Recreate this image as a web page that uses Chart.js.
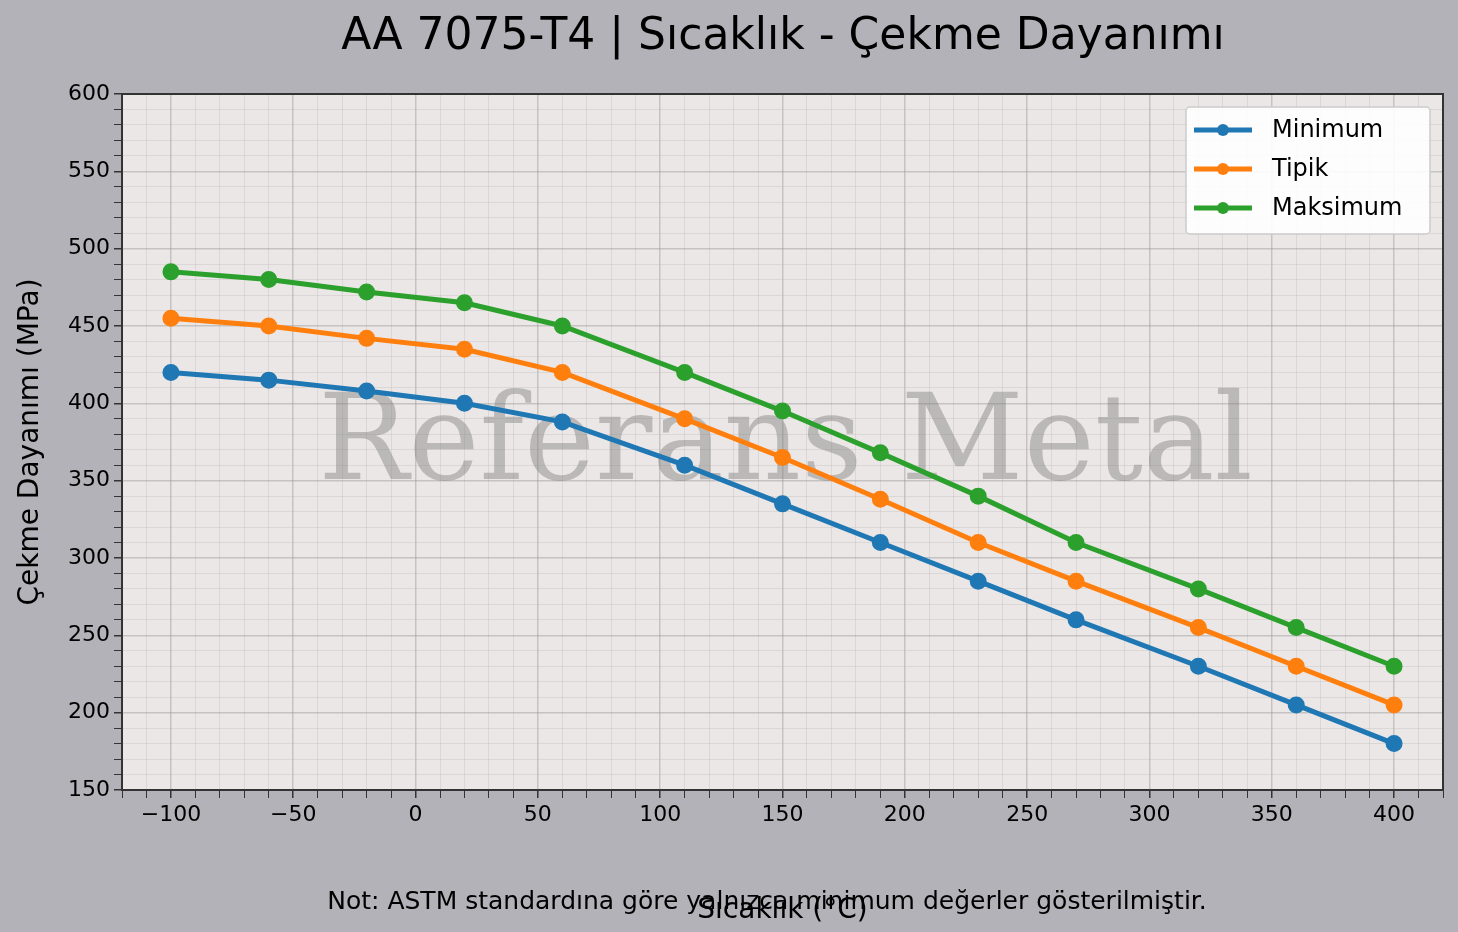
<!DOCTYPE html>
<html><head><meta charset="utf-8">
<script src="https://cdn.jsdelivr.net/npm/chart.js@4"></script>
<style>html,body{margin:0;padding:0;background:#b3b2b8;}#w{width:1458px;height:932px;}</style>
</head><body><div id="w"><canvas id="c"></canvas></div>
<script>
const temps=[-100,-60,-20,20,60,110,150,190,230,270,320,360,400];
const minimum=[420,415,408,400,388,360,335,310,285,260,230,205,180];
const tipik=[455,450,442,435,420,390,365,338,310,285,255,230,205];
const maksimum=[485,480,472,465,450,420,395,368,340,310,280,255,230];
const names=['Minimum','Tipik','Maksimum'];
const colors=['#1f77b4','#ff7f0e','#2ca02c'];
const F='"DejaVu Sans", sans-serif';
const mk=(arr,i)=>({label:names[i],data:temps.map((t,j)=>({x:t,y:arr[j]})),borderColor:colors[i],backgroundColor:colors[i],borderWidth:5,pointRadius:6,pointHoverRadius:6});
const deco={id:'deco',
beforeDraw(ch){const c=ch.ctx,a=ch.chartArea;c.save();c.fillStyle='#b3b2b8';c.fillRect(0,0,ch.width,ch.height);c.fillStyle='#ebe7e6';c.fillRect(a.left,a.top,a.right-a.left,a.bottom-a.top);c.restore();},
beforeDatasetsDraw(ch){const c=ch.ctx,a=ch.chartArea;c.save();c.fillStyle='rgba(128,128,128,0.45)';c.font='120px "DejaVu Serif", serif';c.textAlign='center';c.textBaseline='middle';c.fillText('Referans Metal',(a.left+a.right)/2+3,448);c.restore();},
afterDraw(ch){const c=ch.ctx,a=ch.chartArea;c.save();
c.strokeStyle='#333';c.lineWidth=2;c.strokeRect(a.left,a.top,a.right-a.left,a.bottom-a.top);
c.fillStyle='#000';c.textAlign='center';c.textBaseline='middle';
c.font='44px '+F;c.fillText('AA 7075-T4 | Sıcaklık - Çekme Dayanımı',783,38);
c.font='25px '+F;c.fillText('Not: ASTM standardına göre yalnızca minimum değerler gösterilmiştir.',767,902);
// legend
const lx=1186,ly=107,lw=244,lh=127;c.fillStyle='rgba(255,255,255,0.9)';c.strokeStyle='#ccc';c.lineWidth=1.5;
c.beginPath();c.roundRect(lx,ly,lw,lh,4);c.fill();c.stroke();
c.textAlign='left';c.font='24px '+F;
for(let i=0;i<3;i++){const y=130+i*39;c.strokeStyle=colors[i];c.lineWidth=5;c.beginPath();c.moveTo(1194,y);c.lineTo(1252,y);c.stroke();
c.fillStyle=colors[i];c.beginPath();c.arc(1223,y,6,0,Math.PI*2);c.fill();c.fillStyle='#000';c.fillText(names[i],1272,y+1);}
c.restore();}};
new Chart(document.getElementById('c'),{type:'line',
data:{datasets:[mk(minimum,0),mk(tipik,1),mk(maksimum,2)]},
options:{responsive:true,maintainAspectRatio:false,animation:false,
layout:{padding:{left:10,right:15,top:94,bottom:0}},
plugins:{legend:{display:false},tooltip:{enabled:false}},
scales:{
x:{type:'linear',min:-120,max:420,
ticks:{stepSize:10,autoSkip:false,font:{size:22,family:F},color:'#000',maxRotation:0,padding:4,
callback:v=>v%50===0?(v<0?'\u2212'+(-v):String(v)):''},
grid:{color:ctx=>ctx.tick&&ctx.tick.value%50===0?'rgba(150,150,150,0.45)':'rgba(180,180,180,0.3)',lineWidth:ctx=>ctx.tick&&ctx.tick.value%50===0?1.5:1,tickLength:ctx=>8,tickColor:'#333'},
border:{display:false},
title:{display:true,text:'Sıcaklık (°C)',font:{size:28,family:F},color:'#000'},
afterFit(s){s.height=142;}},
y:{min:150,max:600,
ticks:{stepSize:10,autoSkip:false,font:{size:22,family:F},color:'#000',padding:4,
callback:v=>v%50===0?String(v):''},
grid:{color:ctx=>ctx.tick&&ctx.tick.value%50===0?'rgba(150,150,150,0.45)':'rgba(180,180,180,0.3)',lineWidth:ctx=>ctx.tick&&ctx.tick.value%50===0?1.5:1,tickLength:8,tickColor:'#333'},
border:{display:false},
title:{display:true,text:'Çekme Dayanımı (MPa)',font:{size:28,family:F},color:'#000'},
afterFit(s){s.width=112;}}}},
plugins:[deco]});
</script></body></html>
